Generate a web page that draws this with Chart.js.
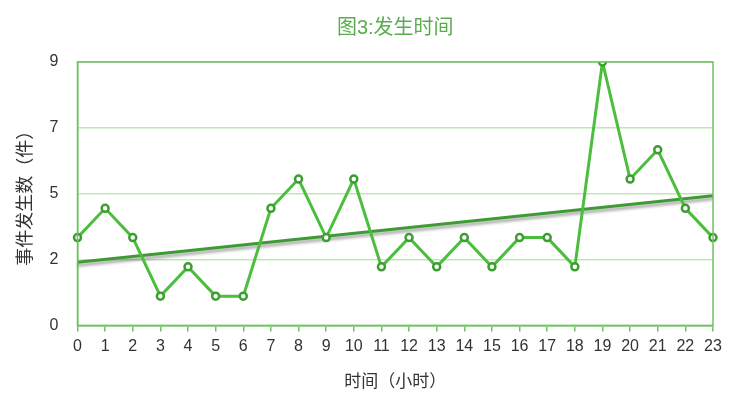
<!DOCTYPE html>
<html>
<head>
<meta charset="utf-8">
<script src="https://cdn.jsdelivr.net/npm/chart.js@4/dist/chart.umd.min.js"></script>
<style>
  html, body { margin: 0; padding: 0; background: #fff; }
  #wrap { width: 740px; height: 416px; }
</style>
</head>
<body>
<div id="wrap"><canvas id="c" width="740" height="416"></canvas></div>
<script>
// Hours of the day
const hours = ['0','1','2','3','4','5','6','7','8','9','10','11','12','13','14','15','16','17','18','19','20','21','22','23'];
// Number of incidents per hour
const incidents = [3, 4, 3, 1, 2, 1, 1, 4, 5, 3, 5, 2, 3, 2, 3, 2, 3, 3, 2, 9, 5, 6, 4, 3];
// Linear trend: value at the first and last hour
const trendEnds = [2.16, 4.43];
// Axis range and tick spacing
const yRange = [0, 9];
const yStep = 2.25;

const titleText = '图3:发生时间';
const xTitle = '时间（小时）';
const yTitle = '事件发生数（件）';

const cjk = '"Liberation Sans", "Noto Sans CJK SC", sans-serif';

const trendData = [
  { x: hours[0], y: trendEnds[0] },
  { x: hours[hours.length - 1], y: trendEnds[1] }
];

// Outline around the plotting area, and the heading centred over it
const frame = {
  id: 'frame',
  afterDraw(chart) {
    const { ctx, chartArea: a } = chart;
    ctx.save();
    ctx.strokeStyle = '#6cc35f';
    ctx.lineWidth = 1.5;
    ctx.strokeRect(a.left, a.top, a.right - a.left, a.bottom - a.top);
    ctx.fillStyle = '#5aac4e';
    ctx.font = '20px ' + cjk;
    ctx.textAlign = 'center';
    ctx.textBaseline = 'middle';
    ctx.fillText(titleText, (a.left + a.right) / 2, 28);
    ctx.restore();
  }
};

// Soft shadow under the trend line
const trendShadow = {
  id: 'trendShadow',
  beforeDatasetDraw(chart, args) {
    if (args.index !== 0) return;
    const ctx = chart.ctx;
    ctx.save();
    ctx.shadowColor = 'rgba(0,0,0,0.35)';
    ctx.shadowBlur = 3;
    ctx.shadowOffsetY = 3;
  },
  afterDatasetDraw(chart, args) {
    if (args.index !== 0) return;
    chart.ctx.restore();
  }
};

new Chart(document.getElementById('c'), {
  type: 'line',
  data: {
    labels: hours,
    datasets: [
      {
        label: 'trend',
        data: trendData,
        borderColor: '#3e9b34',
        borderWidth: 3,
        pointRadius: 0,
        fill: false,
        order: 2
      },
      {
        label: 'incidents',
        data: incidents,
        borderColor: '#4cbe3d',
        borderWidth: 3,
        pointRadius: 3.5,
        pointBorderWidth: 2.5,
        pointBorderColor: '#3c9e31',
        pointBackgroundColor: '#ffffff',
        tension: 0,
        fill: false,
        order: 1
      }
    ]
  },
  options: {
    responsive: false,
    animation: false,
    devicePixelRatio: 1,
    layout: { padding: { top: 62, right: 27, bottom: 19, left: 15 } },
    plugins: {
      legend: { display: false },
      tooltip: { enabled: false },
      title: { display: false }
    },
    scales: {
      x: {
        type: 'category',
        offset: false,
        grid: {
          drawOnChartArea: false,
          drawTicks: true,
          tickLength: 6,
          color: '#6cc35f',
          lineWidth: 1.5
        },
        border: { display: true, color: '#6cc35f', width: 1.5 },
        ticks: {
          color: '#333',
          font: { family: cjk, size: 16 },
          padding: 6,
          maxRotation: 0,
          autoSkip: false
        },
        title: {
          display: true,
          text: xTitle,
          color: '#333',
          font: { family: cjk, size: 17 },
          padding: { top: 10 }
        }
      },
      y: {
        min: yRange[0],
        max: yRange[1],
        grid: {
          drawOnChartArea: true,
          drawTicks: false,
          color: '#bfe6b6',
          lineWidth: 1.5
        },
        border: { display: true, color: '#6cc35f', width: 1.5 },
        ticks: {
          stepSize: yStep,
          color: '#333',
          font: { family: cjk, size: 16 },
          padding: 19,
          callback: v => Math.round(v)
        },
        title: {
          display: true,
          text: yTitle,
          color: '#333',
          font: { family: cjk, size: 18 },
          padding: { top: 0, bottom: -6 }
        }
      }
    }
  },
  plugins: [frame, trendShadow]
});
</script>
</body>
</html>
